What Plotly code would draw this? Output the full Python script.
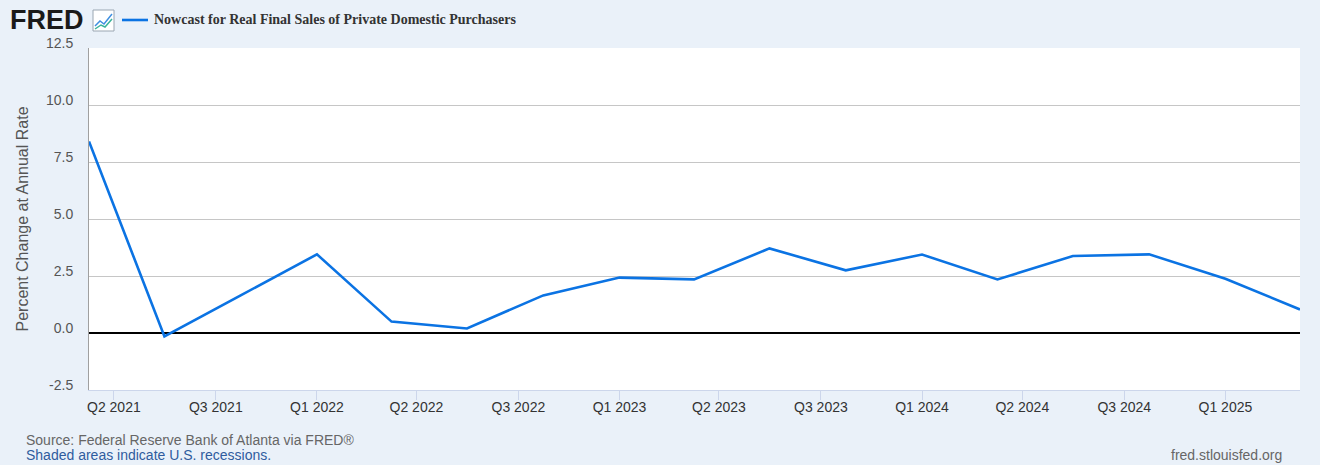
import plotly.graph_objects as go

# ---- data ----
dates = ["2021-04-01", "2021-07-01", "2021-10-01", "2022-01-01", "2022-04-01",
         "2022-07-01", "2022-10-01", "2023-01-01", "2023-04-01", "2023-07-01",
         "2023-10-01", "2024-01-01", "2024-04-01", "2024-07-01", "2024-10-01",
         "2025-01-01", "2025-04-01"]
values = [8.4, -0.15, 1.65, 3.45, 0.5, 0.2, 1.65, 2.43, 2.35, 3.71, 2.75,
          3.44, 2.35, 3.38, 3.45, 2.38, 1.03]

tick_dates = ["2021-05-01", "2021-09-01", "2022-01-01", "2022-05-01", "2022-09-01",
              "2023-01-01", "2023-05-01", "2023-09-01", "2024-01-01", "2024-05-01",
              "2024-09-01", "2025-01-01"]
tick_labels = ["Q2 2021", "Q3 2021", "Q1 2022", "Q2 2022", "Q3 2022", "Q1 2023",
               "Q2 2023", "Q3 2023", "Q1 2024", "Q2 2024", "Q3 2024", "Q1 2025"]
y_ticks = [-2.5, 0.0, 2.5, 5.0, 7.5, 10.0, 12.5]
y_tick_labels = ["-2.5", "0.0", "2.5", "5.0", "7.5", "10.0", "12.5"]

series_name = "Nowcast for Real Final Sales of Private Domestic Purchasers"
y_title = "Percent Change at Annual Rate"

# ---- layout geometry ----
W, H = 1320, 465
L, R, T, B = 89, 1300, 48, 390
BG = "#eaf1f9"
LINE = "#0b73e3"


def px(x):
    return (x - L) / (R - L)


def py(y):
    return (B - y) / (B - T)


fig = go.Figure()
fig.add_trace(go.Scatter(x=dates, y=values, mode="lines", name=series_name,
                         line=dict(color=LINE, width=2.6), showlegend=False))

fig.update_layout(
    width=W, height=H,
    margin=dict(l=L, r=W - R, t=T, b=H - B, autoexpand=False),
    paper_bgcolor=BG, plot_bgcolor="white",
    font=dict(family="Liberation Sans, Arial, sans-serif", size=14, color="#333333"),
    xaxis=dict(
        type="date", range=[dates[0], dates[-1]],
        tickvals=tick_dates, ticktext=tick_labels,
        showgrid=False, zeroline=False,
        showline=True, linecolor="#ccd6eb", linewidth=1,
        ticks="outside", ticklen=9, tickcolor="#ccd6eb", tickwidth=1,
        ticklabelstandoff=-5,
        tickfont=dict(size=14, color="#333333"),
    ),
    yaxis=dict(
        range=[-2.5, 12.5], tickvals=y_ticks, ticktext=y_tick_labels,
        showgrid=True, gridcolor="#c6c6c6", gridwidth=1,
        zeroline=True, zerolinecolor="black", zerolinewidth=2,
        showline=True, linecolor="#a0a0a0", linewidth=1,
        ticks="", ticklabelstandoff=12, ticklabelshift=-5,
        tickfont=dict(size=14, color="#555555"),
        title=dict(text=y_title, font=dict(size=16, color="#555555"), standoff=13),
    ),
)

# FRED logo text
fig.add_annotation(x=px(8), y=py(20), xref="paper", yref="paper", xanchor="left",
                   yanchor="middle", showarrow=False,
                   text="<b>FRED</b>", font=dict(family="Liberation Sans, Arial", size=27, color="#1a1a1a"))
# small logo icon
fig.add_shape(type="rect", xref="paper", yref="paper",
              x0=px(93), x1=px(114), y0=py(31), y1=py(10),
              line=dict(color="#9aa6b2", width=1), fillcolor="white", layer="above")
fig.add_shape(type="path", xref="paper", yref="paper",
              path=f"M {px(95)} {py(26)} L {px(100)} {py(21)} L {px(104)} {py(24)} L {px(112)} {py(14)}",
              line=dict(color="#3f8fe0", width=1.5), layer="above")
fig.add_shape(type="path", xref="paper", yref="paper",
              path=f"M {px(95)} {py(29)} L {px(101)} {py(25)} L {px(105)} {py(27)} L {px(112)} {py(19)}",
              line=dict(color="#3bb39a", width=1.5), layer="above")

# legend sample
fig.add_shape(type="line", xref="paper", yref="paper",
              x0=px(122), x1=px(148), y0=py(20), y1=py(20),
              line=dict(color=LINE, width=2.6))
fig.add_annotation(x=px(152), y=py(20), xref="paper", yref="paper", xanchor="left",
                   yanchor="middle", showarrow=False, text=f"<b>{series_name}</b>",
                   font=dict(family="Liberation Serif, Times New Roman, serif", size=14, color="#333333"))

# footer
fig.add_annotation(x=px(24), y=py(440), xref="paper", yref="paper", xanchor="left",
                   yanchor="middle", showarrow=False,
                   text="Source: Federal Reserve Bank of Atlanta via FRED®",
                   font=dict(size=14, color="#666666"))
fig.add_annotation(x=px(24), y=py(455), xref="paper", yref="paper", xanchor="left",
                   yanchor="middle", showarrow=False,
                   text="Shaded areas indicate U.S. recessions.",
                   font=dict(size=14, color="#2f5c9e"))
fig.add_annotation(x=px(1284), y=py(455), xref="paper", yref="paper", xanchor="right",
                   yanchor="middle", showarrow=False,
                   text="fred.stlouisfed.org",
                   font=dict(size=14, color="#666666"))

fig.write_html("out.html",
               config={"displayModeBar": False},
               post_script="document.body.style.margin='0';"
                           "document.body.style.overflow='hidden';"
                           "document.body.style.background='" + BG + "';")
